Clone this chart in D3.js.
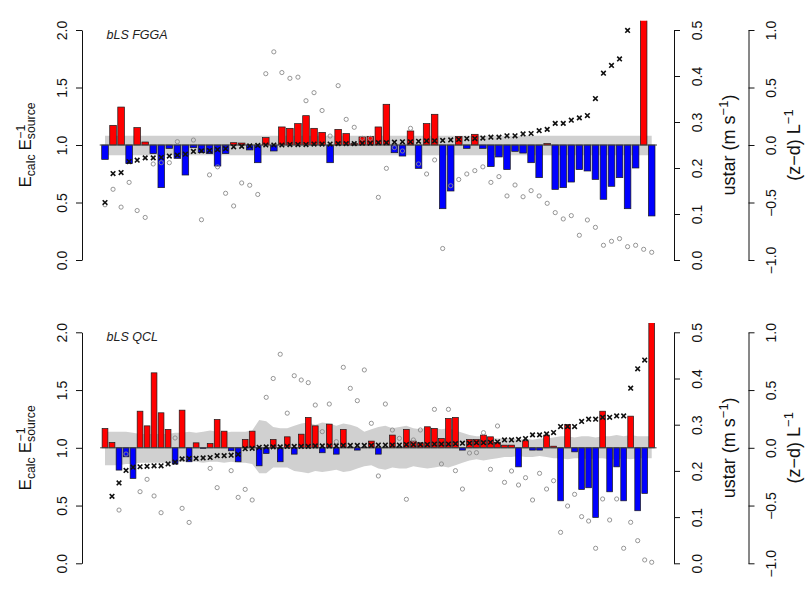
<!DOCTYPE html>
<html><head><meta charset="utf-8">
<script src="https://cdn.jsdelivr.net/npm/d3@7"></script>
<style>
body{margin:0;background:#fff}
svg{display:block}
text{font-family:"Liberation Sans",Arial,Helvetica,sans-serif}
</style>
</head><body>
<svg id="chart" width="806" height="594"></svg>
<script>
// ---------------- DATA ----------------
const panelNames = ["bLS FGGA", "bLS QCL"];

// E_calc / E_source ratio (bars)
const fggaRatio = [0.875,1.171,1.330,0.838,1.151,1.026,0.925,0.629,0.970,0.884,
  0.739,0.977,0.933,0.925,0.817,0.925,1.020,1.017,0.957,0.846,
  1.064,0.948,1.157,1.145,1.186,1.255,1.145,1.110,0.846,1.136,
  1.099,1.012,1.070,1.075,1.157,1.354,0.933,0.904,1.122,0.797,
  1.186,1.267,0.446,0.600,1.075,0.971,1.093,0.971,0.812,0.896,
  0.786,0.945,0.930,0.846,0.716,1.012,0.614,0.629,0.678,0.786,
  0.774,0.701,0.528,0.641,0.716,0.446,0.800,2.150,0.383];
const qclRatio = [1.167,1.046,0.807,0.922,0.735,1.317,1.190,1.649,1.303,1.159,
  0.859,1.326,0.879,1.043,0.995,1.037,1.245,1.144,0.974,0.879,
  1.072,1.144,0.844,0.951,1.072,0.879,1.095,0.945,1.118,1.263,
  1.190,0.957,1.205,0.945,1.159,1.005,0.980,1.003,1.058,0.945,
  1.004,1.110,1.006,1.159,1.058,1.043,1.182,1.167,1.081,1.254,
  1.263,0.980,1.072,1.072,1.110,1.095,1.046,1.023,1.023,0.835,
  1.061,0.980,0.980,1.110,1.014,0.541,1.202,0.965,0.639,0.654,
  0.397,1.317,0.619,0.835,0.541,1.274,0.455,0.605,2.150];

// ustar (m s-1) (crosses)
const fggaUstar = [0.125,0.188,0.190,0.214,0.217,0.222,0.222,0.223,0.226,0.228,
  0.230,0.236,0.237,0.238,0.240,0.242,0.246,0.247,0.248,0.249,
  0.250,0.250,0.250,0.251,0.251,0.251,0.252,0.252,0.252,0.253,
  0.253,0.253,0.254,0.254,0.255,0.255,0.256,0.257,0.257,0.258,
  0.259,0.259,0.260,0.261,0.262,0.264,0.264,0.265,0.267,0.267,
  0.270,0.270,0.274,0.275,0.281,0.284,0.297,0.297,0.304,0.309,
  0.314,0.351,0.406,0.423,0.437,0.499,0.550,0.600,0.650];
const qclUstar = [null,0.145,0.174,0.201,0.208,0.209,0.210,0.211,0.211,0.215,
  0.219,0.226,0.227,0.227,0.228,0.229,0.233,0.233,0.234,0.236,
  0.248,0.249,0.251,0.252,0.252,0.252,0.253,0.253,0.253,0.253,
  0.254,0.254,0.254,0.254,0.255,0.255,0.255,0.255,0.255,0.256,
  0.256,0.256,0.256,0.257,0.257,0.257,0.257,0.258,0.258,0.258,
  0.259,0.260,0.260,0.261,0.261,0.262,0.263,0.267,0.267,0.268,
  0.270,0.278,0.278,0.280,0.283,0.296,0.296,0.296,0.307,0.312,
  0.312,0.316,0.316,0.319,0.319,0.379,0.421,0.440,0.600];

// (z-d)/L (open circles)
const fggaZL = [-0.52,-0.385,-0.54,-0.325,-0.57,-0.63,-0.165,-0.154,-0.154,0.029,
  null,0.043,-0.65,-0.26,-0.19,-0.42,-0.53,-0.33,-0.35,-0.43,
  0.62,0.81,0.63,0.58,0.59,0.385,0.455,0.30,0.078,0.516,
  0.223,0.154,0.058,0.058,-0.455,-0.203,-0.023,-0.052,0.145,-0.165,
  -0.252,-0.13,-0.90,-0.354,-0.30,-0.252,-0.223,-0.19,-0.325,-0.275,
  -0.443,-0.348,-0.45,-0.397,-0.443,-0.507,-0.588,-0.643,-0.614,-0.785,
  -0.652,-0.716,-0.872,-0.837,-0.814,-0.884,-0.872,-0.907,-0.933];
const qclZL = [null,null,-0.539,-0.054,null,-0.38,-0.273,-0.417,-0.562,null,
  0.085,-0.524,-0.646,null,null,-0.178,-0.345,null,-0.198,-0.429,
  -0.36,-0.452,null,0.437,0.60,0.81,0.30,0.624,0.587,0.564,
  0.37,0.14,0.379,0.053,0.697,0.515,0.408,0.674,0.212,-0.244,
  0.379,0.154,0.082,-0.446,0.068,0.154,null,0.333,-0.14,0.333,
  -0.198,-0.357,-0.045,-0.042,0.131,-0.186,0.189,-0.299,-0.201,-0.322,
  -0.259,-0.452,-0.221,-0.357,-0.285,-0.732,-0.504,-0.403,-0.596,-0.634,
  -0.87,-0.443,-0.625,-0.443,-0.87,-0.645,-0.804,-0.971,-0.991];

// uncertainty band (grey) upper / lower limits of the ratio
const fggaBandHi = [1.08,1.08,1.08,1.08,1.08,1.08,1.08,1.08,1.08,1.08,
  1.08,1.08,1.08,1.08,1.08,1.08,1.08,1.08,1.08,1.08,
  1.08,1.08,1.08,1.08,1.08,1.08,1.08,1.08,1.08,1.08,
  1.08,1.08,1.08,1.08,1.08,1.08,1.08,1.08,1.08,1.08,
  1.08,1.08,1.08,1.08,1.08,1.08,1.08,1.08,1.08,1.08,
  1.08,1.08,1.08,1.08,1.08,1.08,1.08,1.08,1.08,1.08,
  1.08,1.08,1.08,1.08,1.08,1.08,1.08,1.08,1.08];
const fggaBandLo = [0.91,0.91,0.91,0.91,0.91,0.91,0.91,0.91,0.91,0.91,
  0.91,0.91,0.91,0.91,0.91,0.91,0.91,0.91,0.91,0.91,
  0.91,0.91,0.91,0.91,0.91,0.91,0.91,0.91,0.91,0.91,
  0.91,0.91,0.91,0.91,0.91,0.91,0.91,0.91,0.91,0.91,
  0.91,0.91,0.91,0.91,0.91,0.91,0.91,0.91,0.91,0.91,
  0.91,0.91,0.91,0.91,0.91,0.91,0.91,0.91,0.91,0.91,
  0.91,0.91,0.91,0.91,0.91,0.91,0.91,0.91,0.91];
const qclBandHi = [1.14,1.14,1.14,1.14,1.13,1.12,1.12,1.12,1.12,1.12,
  1.13,1.13,1.14,1.13,1.14,1.15,1.14,1.13,1.14,1.14,
  1.14,1.15,1.24,1.23,1.18,1.17,1.17,1.19,1.21,1.22,
  1.20,1.22,1.21,1.19,1.21,1.20,1.18,1.14,1.16,1.18,
  1.19,1.17,1.18,1.19,1.17,1.16,1.18,1.17,1.16,1.17,
  1.15,1.13,1.11,1.10,1.10,1.09,1.08,1.08,1.08,1.07,
  1.08,1.07,1.08,1.08,1.09,1.10,1.10,1.09,1.10,1.10,
  1.09,1.10,1.10,1.11,1.10,1.11,1.10,1.10,1.10];
const qclBandLo = [0.85,0.85,0.85,0.86,0.86,0.87,0.87,0.87,0.87,0.87,
  0.87,0.88,0.88,0.88,0.87,0.88,0.88,0.87,0.88,0.87,
  0.87,0.86,0.78,0.78,0.83,0.83,0.83,0.80,0.79,0.78,
  0.80,0.79,0.80,0.81,0.79,0.80,0.82,0.84,0.85,0.82,
  0.81,0.83,0.82,0.82,0.84,0.83,0.82,0.83,0.84,0.83,
  0.85,0.87,0.89,0.90,0.89,0.90,0.91,0.92,0.92,0.93,
  0.92,0.92,0.93,0.92,0.91,0.91,0.90,0.91,0.91,0.90,
  0.91,0.91,0.90,0.90,0.91,0.90,0.91,0.91,0.91];

// tick values
const ratioTicks = [0, 0.5, 1.0, 1.5, 2.0];
const ustarTicks = [0, 0.1, 0.2, 0.3, 0.4, 0.5];
const zlTicks = [-1.0, -0.5, 0, 0.5, 1.0];

// ---------------- LAYOUT ----------------
const svg = d3.select("#chart");
const X_LEFT_AXIS = 82, X_USTAR_AXIS = 674, X_ZL_AXIS = 748.5;
const X_FIRST = 105, X_LAST = 651.7;
const panelGeom = [{y0: 260, y2: 30}, {y0: 563.3, y2: 332.3}];
const panelData = [
  {ratio: fggaRatio, ustar: fggaUstar, zl: fggaZL, hi: fggaBandHi, lo: fggaBandLo},
  {ratio: qclRatio, ustar: qclUstar, zl: qclZL, hi: qclBandHi, lo: qclBandLo}
];
const fmt = v => d3.format(".1f")(v).replace("-", "\u2212");

function mathLabel(parent, segs, size, cx, cy) {
  const g = parent.append("g").attr("transform", `translate(${cx},${cy}) rotate(-90)`);
  const inner = g.append("g");
  let pos = 0;
  const small = size * 0.72;
  segs.forEach(s => {
    if (s.kind === "gap") { pos += s.w; return; }
    if (s.kind === "n") {
      const t = inner.append("text").attr("x", pos).attr("y", 0)
        .attr("font-size", size).attr("fill", "#111").text(s.t);
      pos += t.node().getComputedTextLength();
    } else {
      let w = 0;
      if (s.sub) {
        const t = inner.append("text").attr("x", pos).attr("y", size * 0.22)
          .attr("font-size", small).attr("fill", "#111").text(s.sub);
        w = Math.max(w, t.node().getComputedTextLength());
      }
      if (s.sup) {
        const t = inner.append("text").attr("x", pos + (s.sub ? 0.5 : 0)).attr("y", -size * 0.38)
          .attr("font-size", small).attr("fill", "#111").text(s.sup);
        w = Math.max(w, t.node().getComputedTextLength());
      }
      pos += w;
    }
  });
  inner.attr("transform", `translate(${-pos / 2},0)`);
}

function rotateTickLabels(axisG, offset) {
  axisG.selectAll(".tick text")
    .attr("x", null).attr("y", null).attr("dy", null)
    .attr("text-anchor", "middle")
    .attr("transform", `translate(${offset},0) rotate(-90)`)
    .attr("font-size", 14).attr("fill", "#111");
}

panelGeom.forEach((geo, p) => {
  const data = panelData[p];
  const n = data.ratio.length;
  const yE = d3.scaleLinear().domain([0, 2]).range([geo.y0, geo.y2]);
  const yU = d3.scaleLinear().domain([0, 0.5]).range([geo.y0, geo.y2]);
  const yZ = d3.scaleLinear().domain([-1, 1]).range([geo.y0, geo.y2]);
  const x = d3.scaleLinear().domain([0, n - 1]).range([X_FIRST, X_LAST]);
  const step = (X_LAST - X_FIRST) / (n - 1);
  const bw = step * 0.82;

  const clipId = "clip" + p;
  svg.append("clipPath").attr("id", clipId).append("rect")
    .attr("x", X_LEFT_AXIS).attr("width", X_USTAR_AXIS - X_LEFT_AXIS)
    .attr("y", yE(2.08)).attr("height", yE(-0.08) - yE(2.08));
  const g = svg.append("g").attr("clip-path", `url(#${clipId})`);

  // grey band
  const idx = d3.range(n);
  g.append("path").datum(idx)
    .attr("d", d3.area().x(i => x(i)).y0(i => yE(data.lo[i])).y1(i => yE(data.hi[i])))
    .attr("fill", "#d0d0d0").attr("stroke", "none");

  // bars
  g.selectAll("rect.bar").data(data.ratio).join("rect").attr("class", "bar")
    .attr("x", (d, i) => x(i) - bw / 2)
    .attr("width", bw)
    .attr("y", d => yE(Math.max(d, 1)))
    .attr("height", d => Math.abs(yE(d) - yE(1)))
    .attr("fill", d => d >= 1 ? "#ff0000" : "#0000ff")
    .attr("stroke", "#1a1a1a").attr("stroke-width", 0.7);

  // reference line at 1
  g.append("line")
    .attr("x1", x(0) - bw / 2 - 2).attr("x2", x(n - 1) + bw / 2 + 2)
    .attr("y1", yE(1)).attr("y2", yE(1))
    .attr("stroke", "#444").attr("stroke-width", 1);

  // (z-d)/L circles
  g.selectAll("circle.zl").data(data.zl.map((v, i) => ({v, i})).filter(d => d.v !== null))
    .join("circle").attr("class", "zl")
    .attr("cx", d => x(d.i)).attr("cy", d => yZ(d.v)).attr("r", 2.1)
    .attr("fill", "none").attr("stroke", "#8a8a8a").attr("stroke-width", 0.9);

  // ustar crosses
  const h = 2.3;
  g.selectAll("path.us").data(data.ustar.map((v, i) => ({v, i})).filter(d => d.v !== null))
    .join("path").attr("class", "us")
    .attr("transform", d => `translate(${x(d.i)},${yU(d.v)})`)
    .attr("d", `M${-h},${-h}L${h},${h}M${-h},${h}L${h},${-h}`)
    .attr("stroke", "#111").attr("stroke-width", 1.6).attr("fill", "none");

  // panel label
  svg.append("text").attr("x", 106.5).attr("y", geo.y2 + 8.5)
    .attr("font-size", 12.5).attr("font-style", "italic").attr("fill", "#222")
    .text(panelNames[p]);

  // left axis
  const ax1 = svg.append("g").attr("transform", `translate(${X_LEFT_AXIS},0)`)
    .call(d3.axisLeft(yE).tickValues(ratioTicks).tickSize(6).tickSizeOuter(0).tickFormat(fmt));
  rotateTickLabels(ax1, -15);
  // ustar axis
  const ax2 = svg.append("g").attr("transform", `translate(${X_USTAR_AXIS},0)`)
    .call(d3.axisRight(yU).tickValues(ustarTicks).tickSize(6).tickSizeOuter(0).tickFormat(fmt));
  rotateTickLabels(ax2, 27.7);
  // z/L axis
  const ax3 = svg.append("g").attr("transform", `translate(${X_ZL_AXIS},0)`)
    .call(d3.axisRight(yZ).tickValues(zlTicks).tickSize(6).tickSizeOuter(0).tickFormat(fmt));
  rotateTickLabels(ax3, 27.4);
  [ax1, ax2, ax3].forEach(a => {
    a.selectAll("path.domain, line").attr("stroke", "#111");
  });

  const yc = yE(1);
  mathLabel(svg, [{kind: "n", t: "E"}, {kind: "s", sub: "calc"}, {kind: "gap", w: 4},
    {kind: "n", t: "E"}, {kind: "s", sub: "source", sup: "\u22121"}], 17, 31, yc);
  mathLabel(svg, [{kind: "n", t: "ustar (m s"}, {kind: "s", sup: "\u22121"}, {kind: "n", t: ")"}],
    18, 734.5, yc);
  mathLabel(svg, [{kind: "n", t: "(z\u2212d)"}, {kind: "gap", w: 5}, {kind: "n", t: "L"},
    {kind: "s", sup: "\u22121"}], 18, 800, yc);
});
</script>
</body></html>
